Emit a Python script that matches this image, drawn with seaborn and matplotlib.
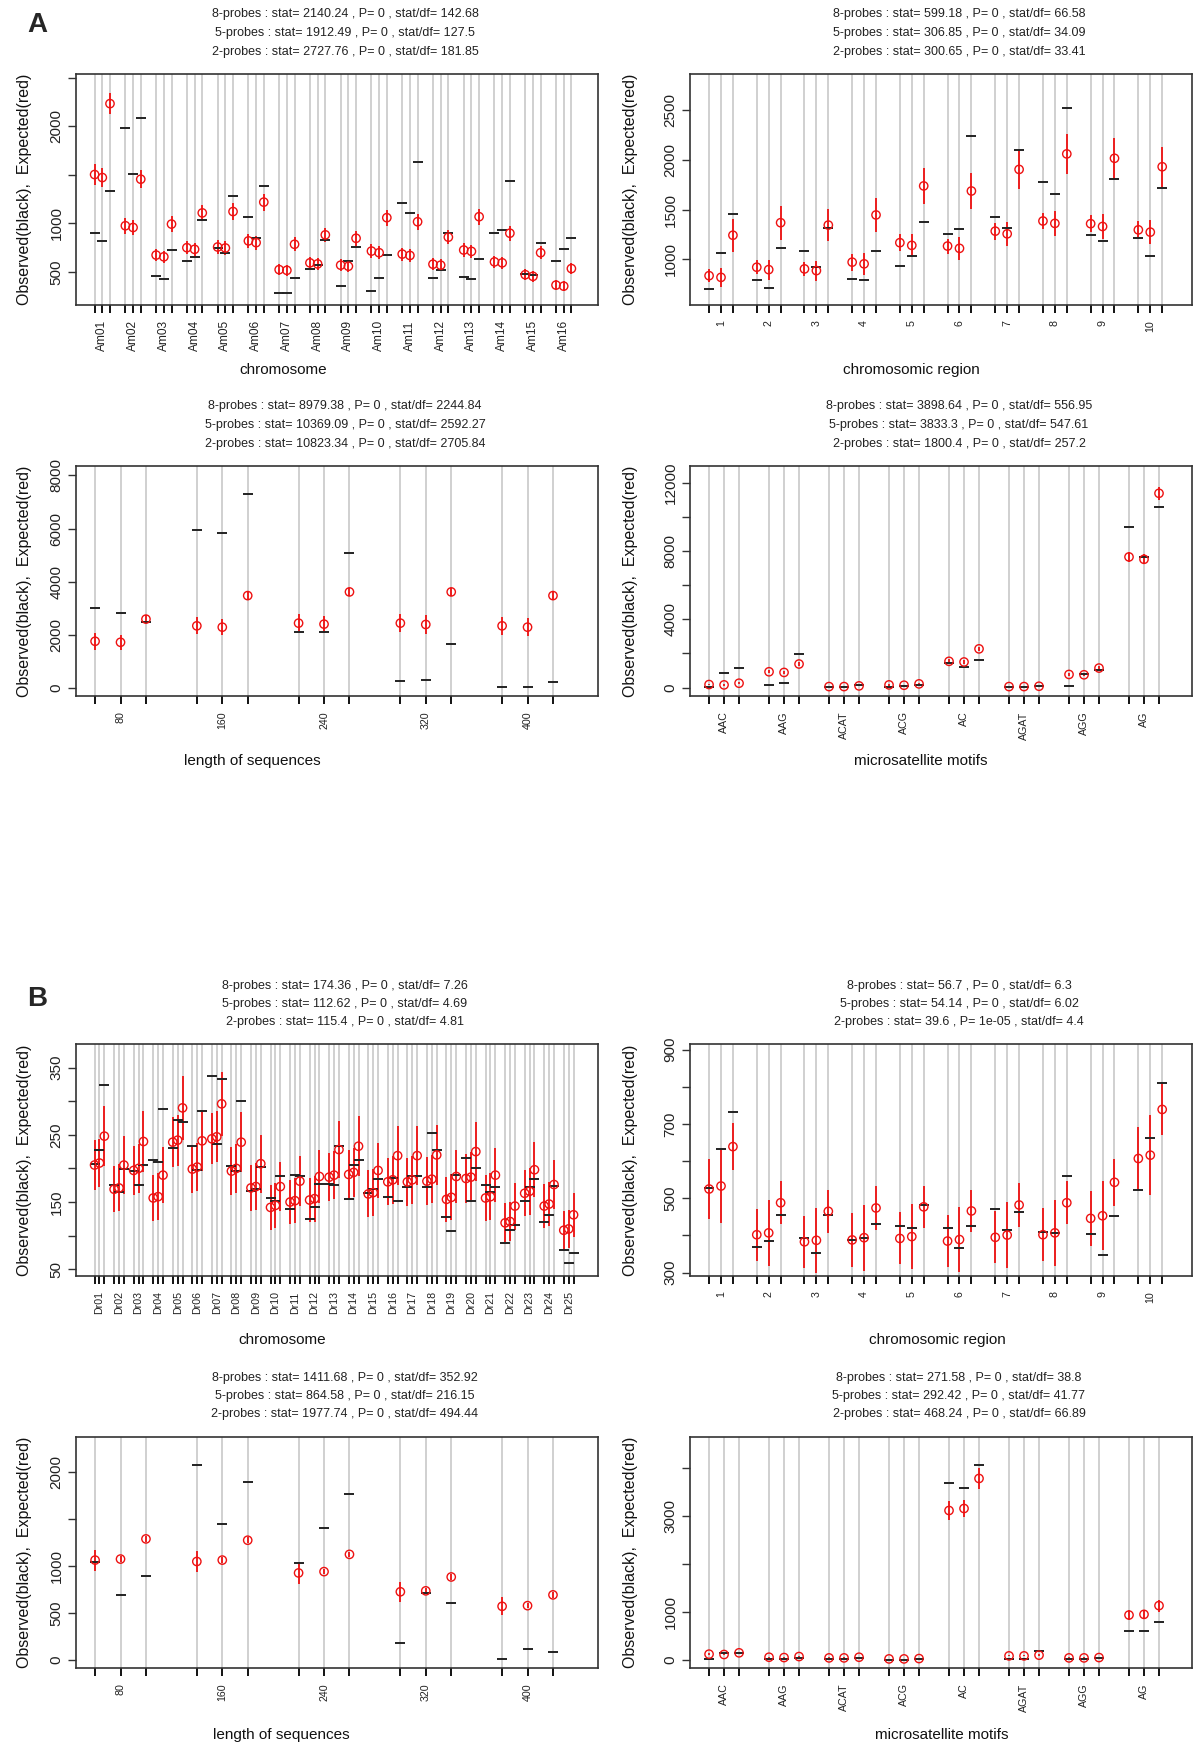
import numpy as np
import matplotlib
matplotlib.use('Agg')
import matplotlib.pyplot as plt
import seaborn as sns

sns.set_style('white')
plt.rcParams['font.family'] = ['Liberation Sans', 'DejaVu Sans']

# ---------------- data ----------------
lab_A1 = ['Am%02d' % i for i in range(1, 17)]
obs_A1 = [899, 823, 1330, 1979, 1510, 2087, 455, 427, 726, 611, 653, 1031, 750, 698, 1281,
          1063, 854, 1382, 281, 281, 437, 535, 576, 833, 358, 611, 757, 302, 437, 670,
          1208, 1108, 1628, 437, 521, 899, 448, 427, 636, 906, 931, 1438, 483, 472, 795,
          611, 740, 854]
exp_A1 = [1503, 1472, 2233, 976, 958, 1455, 674, 656, 993, 750, 733, 1108, 757, 747, 1122,
          820, 802, 1219, 524, 517, 785, 594, 583, 882, 570, 559, 847, 715, 698, 1059,
          684, 670, 1017, 580, 570, 858, 726, 712, 1069, 604, 594, 899, 472, 455, 698,
          365, 354, 535]
err_A1 = [105, 100, 110, 80, 78, 95, 65, 65, 80, 70, 68, 85, 70, 70, 85, 75, 72, 88,
          58, 58, 72, 62, 60, 75, 60, 60, 75, 68, 68, 82, 66, 65, 80, 62, 60, 75,
          68, 68, 82, 62, 62, 76, 55, 55, 68, 48, 48, 58]

lab_A2 = [str(i) for i in range(1, 11)]
obs_A2 = [700, 1060, 1457, 795, 717, 1118, 1084, 924, 1314, 802, 795, 1080, 938, 1033, 1372,
          1253, 1301, 2244, 1430, 1314, 2102, 1779, 1654, 2526, 1247, 1185, 1807, 1219, 1033, 1722]
exp_A2 = [836, 819, 1243, 921, 897, 1369, 904, 887, 1345, 972, 955, 1447, 1168, 1141, 1739,
          1134, 1111, 1688, 1284, 1257, 1905, 1386, 1362, 2061, 1359, 1331, 2017, 1297, 1274, 1932]
err_A2 = [68, 97, 165, 68, 100, 170, 68, 100, 165, 85, 110, 170, 85, 118, 185,
          75, 115, 185, 85, 120, 200, 85, 125, 205, 85, 125, 205, 85, 123, 200]

lab_len = ['80', '160', '240', '320', '400']
obs_A3 = [2996, 2831, 2490, 5953, 5840, 7306, 2098, 2098, 5081, 253, 303, 1668, 25, 25, 215]
exp_A3 = [1757, 1719, 2591, 2338, 2288, 3476, 2440, 2402, 3615, 2440, 2389, 3615, 2338, 2288, 3476]
err_A3 = [316, 280, 150, 316, 300, 150, 350, 316, 150, 350, 350, 150, 350, 330, 150]

lab_mot = ['AAC', 'AAG', 'ACAT', 'ACG', 'AC', 'AGAT', 'AGG', 'AG']
obs_A4 = [59, 868, 1125, 158, 256, 1973, 59, 59, 138, 40, 118, 178, 1440, 1184, 1618,
          20, 40, 99, 99, 789, 1046, 9411, 7675, 10575]
exp_A4 = [178, 158, 256, 927, 888, 1381, 59, 59, 99, 158, 138, 217, 1539, 1500, 2269,
          59, 59, 79, 770, 750, 1144, 7655, 7517, 11384]
err_A4 = [40, 40, 50, 80, 80, 100, 25, 25, 30, 40, 40, 45, 110, 110, 130,
          25, 25, 30, 80, 80, 100, 300, 300, 390]

lab_B1 = ['Dr%02d' % i for i in range(1, 26)]
obs_B1 = [206, 228, 324, 175, 165, 199, 196, 175, 205, 213, 209, 288, 230, 272, 269,
          234, 197, 285, 337, 237, 333, 204, 196, 300, 167, 169, 202, 156, 152, 188,
          139, 190, 189, 125, 142, 177, 177, 175, 233, 155, 205, 212, 163, 170, 184,
          158, 186, 151, 172, 188, 189, 172, 252, 228, 128, 107, 190, 216, 152, 201,
          175, 165, 172, 89, 108, 116, 152, 173, 184, 121, 130, 174, 79, 59, 74]
exp_B1 = [205, 208, 248, 169, 171, 205, 197, 200, 240, 156, 158, 190, 239, 242, 290,
          199, 202, 241, 244, 247, 296, 196, 200, 239, 171, 173, 207, 142, 145, 173,
          150, 152, 181, 153, 155, 188, 187, 190, 228, 191, 194, 233, 162, 164, 197,
          180, 183, 219, 180, 183, 219, 181, 184, 220, 154, 157, 188, 185, 187, 225,
          156, 158, 190, 119, 121, 144, 163, 166, 198, 144, 147, 176, 108, 110, 131]
err_B1 = [37, 36, 45, 34, 35, 43, 36, 36, 45, 34, 35, 42, 37, 38, 48, 36, 36, 45,
          38, 38, 48, 36, 36, 45, 34, 35, 43, 33, 33, 36, 33, 33, 37, 33, 34, 39,
          36, 36, 43, 36, 37, 45, 35, 35, 41, 35, 36, 44, 36, 36, 44, 36, 36, 44,
          33, 34, 39, 36, 37, 44, 34, 35, 40, 29, 29, 35, 34, 35, 41, 33, 33, 37,
          28, 28, 33]

obs_B2 = [527, 633, 731, 369, 384, 455, 392, 354, 454, 388, 393, 432, 425, 420, 482,
          420, 365, 425, 471, 416, 462, 409, 407, 560, 405, 348, 452, 523, 663, 809]
exp_B2 = [525, 533, 639, 402, 407, 488, 383, 387, 465, 388, 394, 474, 392, 397, 477,
          385, 389, 466, 395, 401, 482, 402, 407, 488, 446, 453, 543, 607, 616, 739]
err_B2 = [80, 100, 64, 70, 88, 58, 70, 88, 57, 72, 89, 58, 70, 88, 57,
          70, 88, 57, 70, 88, 58, 71, 88, 58, 74, 93, 63, 86, 107, 70]

obs_B3 = [1047, 698, 896, 2079, 1450, 1903, 1032, 1406, 1773, 183, 719, 611, 7, 122, 90]
exp_B3 = [1065, 1076, 1291, 1050, 1065, 1277, 928, 942, 1126, 727, 737, 885, 572, 579, 694]
err_B3 = [113, 30, 30, 115, 30, 30, 115, 30, 30, 108, 30, 30, 97, 30, 30]

obs_B4 = [7, 127, 127, 7, 14, 35, 7, 14, 35, 0, 0, 7, 3697, 3577, 4063,
          7, 21, 176, 7, 7, 28, 606, 592, 789]
exp_B4 = [113, 106, 141, 49, 42, 63, 35, 35, 49, 14, 14, 21, 3113, 3155, 3782,
          77, 77, 92, 35, 35, 42, 930, 944, 1127]
err_B4 = [15, 15, 18, 10, 10, 12, 10, 10, 10, 8, 8, 8, 190, 175, 222,
          12, 12, 14, 10, 10, 10, 100, 100, 125]

titles_A1 = ["8-probes : stat= 2140.24 , P= 0 , stat/df= 142.68",
             "5-probes : stat= 1912.49 , P= 0 , stat/df= 127.5",
             "2-probes : stat= 2727.76 , P= 0 , stat/df= 181.85"]
titles_A2 = ["8-probes : stat= 599.18 , P= 0 , stat/df= 66.58",
             "5-probes : stat= 306.85 , P= 0 , stat/df= 34.09",
             "2-probes : stat= 300.65 , P= 0 , stat/df= 33.41"]
titles_A3 = ["8-probes : stat= 8979.38 , P= 0 , stat/df= 2244.84",
             "5-probes : stat= 10369.09 , P= 0 , stat/df= 2592.27",
             "2-probes : stat= 10823.34 , P= 0 , stat/df= 2705.84"]
titles_A4 = ["8-probes : stat= 3898.64 , P= 0 , stat/df= 556.95",
             "5-probes : stat= 3833.3 , P= 0 , stat/df= 547.61",
             "2-probes : stat= 1800.4 , P= 0 , stat/df= 257.2"]
titles_B1 = ["8-probes : stat= 174.36 , P= 0 , stat/df= 7.26",
             "5-probes : stat= 112.62 , P= 0 , stat/df= 4.69",
             "2-probes : stat= 115.4 , P= 0 , stat/df= 4.81"]
titles_B2 = ["8-probes : stat= 56.7 , P= 0 , stat/df= 6.3",
             "5-probes : stat= 54.14 , P= 0 , stat/df= 6.02",
             "2-probes : stat= 39.6 , P= 1e-05 , stat/df= 4.4"]
titles_B3 = ["8-probes : stat= 1411.68 , P= 0 , stat/df= 352.92",
             "5-probes : stat= 864.58 , P= 0 , stat/df= 216.15",
             "2-probes : stat= 1977.74 , P= 0 , stat/df= 494.44"]
titles_B4 = ["8-probes : stat= 271.58 , P= 0 , stat/df= 38.8",
             "5-probes : stat= 292.42 , P= 0 , stat/df= 41.77",
             "2-probes : stat= 468.24 , P= 0 , stat/df= 66.89"]

yticks_A1 = [500, 1000, 1500, 2000, 2500]; ylab_A1 = ['500', '1000', '', '2000', '']
yticks_A2 = [1000, 1500, 2000, 2500]; ylab_A2 = ['1000', '1500', '2000', '2500']
yticks_A3 = [0, 2000, 4000, 6000, 8000]; ylab_A3 = ['0', '2000', '4000', '6000', '8000']
yticks_A4 = [0, 2000, 4000, 6000, 8000, 10000, 12000]; ylab_A4 = ['0', '', '4000', '', '8000', '', '12000']
yticks_B1 = [50, 100, 150, 200, 250, 300, 350]; ylab_B1 = ['50', '', '150', '', '250', '', '350']
yticks_B2 = [300, 400, 500, 600, 700, 800, 900]; ylab_B2 = ['300', '', '500', '', '700', '', '900']
yticks_B3 = [0, 500, 1000, 1500, 2000]; ylab_B3 = ['0', '500', '1000', '', '2000']
yticks_B4 = [0, 1000, 2000, 3000, 4000]; ylab_B4 = ['0', '1000', '', '3000', '']

YLABEL = "Observed(black),  Expected(red)"

# ---------------- layout ----------------
W, H = 1200, 1748
fig = plt.figure(figsize=(W / 100, H / 100), dpi=100)
fig.patch.set_facecolor('white')


def fx(x):
    return x / W


def fy(y):
    return 1 - y / H


def panel(box, labels, obs, exp, err, xlim, ylim, yticks, ylabs, titles, title_x,
          title_y, xlabel, xlabel_x, xlabel_y, ylabel_x, xfs=7.7):
    l, t, r, b = box
    ax = fig.add_axes([fx(l), fy(b), (r - l) / W, (b - t) / H])
    ng = len(labels)
    xs = np.array([4 * g + j for g in range(ng) for j in range(3)], dtype=float)
    for x in xs:
        ax.axvline(x, color='#c8c8c8', lw=1.2, zorder=1)
    ax.errorbar(xs, exp, yerr=err, fmt='none', ecolor='#ee1111', elinewidth=1.3,
                capsize=0, zorder=3)
    sns.scatterplot(x=xs, y=np.array(obs, float), marker='_', s=58, color='#222222',
                    linewidth=1.4, ax=ax, zorder=4)
    sns.scatterplot(x=xs, y=np.array(exp, float), marker='o', s=36, facecolor='none',
                    edgecolor='#ee1111', linewidth=1.0, ax=ax, zorder=5)
    ax.set_xlim(*xlim)
    ax.set_ylim(*ylim)
    ax.set_xticks(xs)
    ax.set_xticklabels([labels[g] if j == 1 else '' for g in range(ng) for j in range(3)],
                       rotation=90, fontsize=xfs, color='#222222')
    ax.set_yticks(yticks)
    ax.set_yticklabels(ylabs, rotation=90, va='center', fontsize=11, color='#222222')
    ax.tick_params(axis='x', direction='out', length=6, width=1.4, pad=5,
                   bottom=True, color='#111111')
    ax.tick_params(axis='y', direction='out', length=6, width=1.0, pad=3,
                   left=True, color='#333333')
    ax.set_xlabel('')
    ax.set_ylabel('')
    ax.grid(False)
    for sp in ax.spines.values():
        sp.set_color('#333333')
        sp.set_linewidth(1.2)
        sp.set_visible(True)
    for i, tt in enumerate(titles):
        fig.text(fx(title_x), fy(title_y[i]), tt, ha='center', va='center',
                 fontsize=9, color='#222222')
    fig.text(fx(xlabel_x), fy(xlabel_y), xlabel, ha='center', va='center',
             fontsize=11, color='#111111')
    fig.text(fx(ylabel_x), fy((t + b) / 2), YLABEL, ha='center', va='center',
             rotation=90, fontsize=11.5, color='#111111')
    return ax


LX = (76, 598)
RX = (690, 1192)
ROWS = [(74, 305), (466, 696), (1044, 1276), (1437, 1668)]
TY = [(14, 33, 52), (406, 425, 444), (986, 1004, 1022), (1378, 1396, 1414)]
XLY = [370, 761, 1340, 1735]

panel((LX[0], ROWS[0][0], LX[1], ROWS[0][1]), lab_A1, obs_A1, exp_A1, err_A1,
      (-2.42, 65.46), (160, 2538), yticks_A1, ylab_A1, titles_A1, 345, TY[0],
      'chromosome', 283, XLY[0], 25, xfs=8.6)
panel((RX[0], ROWS[0][0], RX[1], ROWS[0][1]), lab_A2, obs_A2, exp_A2, err_A2,
      (-1.6, 40.5), (541, 2865), yticks_A2, ylab_A2, titles_A2, 959, TY[0],
      'chromosomic region', 911, XLY[0], 631)
panel((LX[0], ROWS[1][0], LX[1], ROWS[1][1]), lab_len, obs_A3, exp_A3, err_A3,
      (-0.75, 19.77), (-303, 8355), yticks_A3, ylab_A3, titles_A3, 345, TY[1],
      'length of sequences', 252, XLY[1], 25)
panel((RX[0], ROWS[1][0], RX[1], ROWS[1][1]), lab_mot, obs_A4, exp_A4, err_A4,
      (-1.27, 32.2), (-493, 12983), yticks_A4, ylab_A4, titles_A4, 959, TY[1],
      'microsatellite motifs', 921, XLY[1], 631)
panel((LX[0], ROWS[2][0], LX[1], ROWS[2][1]), lab_B1, obs_B1, exp_B1, err_B1,
      (-3.8, 103.0), (40, 385), yticks_B1, ylab_B1, titles_B1, 345, TY[2],
      'chromosome', 282, XLY[2], 25)
panel((RX[0], ROWS[2][0], RX[1], ROWS[2][1]), lab_A2, obs_B2, exp_B2, err_B2,
      (-1.6, 40.5), (291, 915), yticks_B2, ylab_B2, titles_B2, 959, TY[2],
      'chromosomic region', 937, XLY[2], 631)
panel((LX[0], ROWS[3][0], LX[1], ROWS[3][1]), lab_len, obs_B3, exp_B3, err_B3,
      (-0.75, 19.77), (-86, 2378), yticks_B3, ylab_B3, titles_B3, 345, TY[3],
      'length of sequences', 281, XLY[3], 25)
panel((RX[0], ROWS[3][0], RX[1], ROWS[3][1]), lab_mot, obs_B4, exp_B4, err_B4,
      (-1.27, 32.2), (-176, 4648), yticks_B4, ylab_B4, titles_B4, 959, TY[3],
      'microsatellite motifs', 942, XLY[3], 631)

fig.text(fx(37), fy(25), 'A', fontsize=20, fontweight='bold', ha='center', va='center')
fig.text(fx(37), fy(999), 'B', fontsize=20, fontweight='bold', ha='center', va='center')

fig.savefig('out.png', dpi=100, facecolor='white')
